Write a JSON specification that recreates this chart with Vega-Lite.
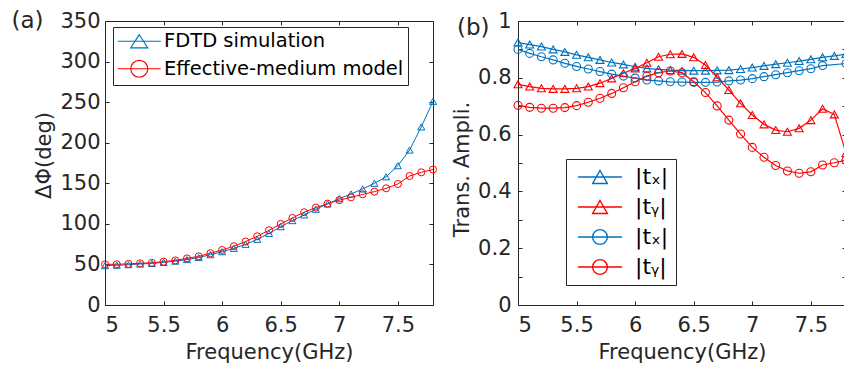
{
  "$schema": "https://vega.github.io/schema/vega-lite/v6.json",
  "autosize": {"type": "none"},
  "padding": {"left": 105, "top": 21, "right": 739, "bottom": 346},
  "background": "white",
  "spacing": 85,
  "bounds": "flush",
  "resolve": {"scale": {"color": "independent", "shape": "independent"}, "legend": {"color": "independent", "shape": "independent"}},
  "config": {
    "font": "DejaVu Sans",
    "view": {"stroke": null},
    "axis": {
      "grid": false,
      "domainColor": "#262626",
      "tickColor": "#262626",
      "labelColor": "#262626",
      "titleColor": "#262626",
      "labelFont": "DejaVu Sans",
      "titleFont": "DejaVu Sans",
      "labelFontSize": 21,
      "titleFontSize": 21,
      "titleFontWeight": "normal",
      "tickSize": -4,
      "domainWidth": 1,
      "tickWidth": 1
    },
    "legend": {
      "labelFont": "DejaVu Sans",
      "labelColor": "#000000",
      "labelLimit": 0,
      "strokeColor": "#262626",
      "fillColor": "white",
      "title": null
    }
  },
  "datasets": {
    "a": [
      {"f": 5.0, "v": 48.5, "s": "FDTD simulation"},
      {"f": 5.1, "v": 49, "s": "FDTD simulation"},
      {"f": 5.2, "v": 49.7, "s": "FDTD simulation"},
      {"f": 5.3, "v": 50.5, "s": "FDTD simulation"},
      {"f": 5.4, "v": 51.3, "s": "FDTD simulation"},
      {"f": 5.5, "v": 52.5, "s": "FDTD simulation"},
      {"f": 5.6, "v": 54, "s": "FDTD simulation"},
      {"f": 5.7, "v": 56, "s": "FDTD simulation"},
      {"f": 5.8, "v": 58.5, "s": "FDTD simulation"},
      {"f": 5.9, "v": 62, "s": "FDTD simulation"},
      {"f": 6.0, "v": 65.7, "s": "FDTD simulation"},
      {"f": 6.1, "v": 69.8, "s": "FDTD simulation"},
      {"f": 6.2, "v": 74.8, "s": "FDTD simulation"},
      {"f": 6.3, "v": 80.9, "s": "FDTD simulation"},
      {"f": 6.4, "v": 88.3, "s": "FDTD simulation"},
      {"f": 6.5, "v": 96.5, "s": "FDTD simulation"},
      {"f": 6.6, "v": 104, "s": "FDTD simulation"},
      {"f": 6.7, "v": 111, "s": "FDTD simulation"},
      {"f": 6.8, "v": 118, "s": "FDTD simulation"},
      {"f": 6.9, "v": 124.5, "s": "FDTD simulation"},
      {"f": 7.0, "v": 131, "s": "FDTD simulation"},
      {"f": 7.1, "v": 136.8, "s": "FDTD simulation"},
      {"f": 7.2, "v": 143, "s": "FDTD simulation"},
      {"f": 7.3, "v": 150, "s": "FDTD simulation"},
      {"f": 7.4, "v": 158, "s": "FDTD simulation"},
      {"f": 7.5, "v": 171.7, "s": "FDTD simulation"},
      {"f": 7.6, "v": 191, "s": "FDTD simulation"},
      {"f": 7.7, "v": 219.5, "s": "FDTD simulation"},
      {"f": 7.8, "v": 251, "s": "FDTD simulation"},
      {"f": 5.0, "v": 50.1, "s": "Effective-medium model"},
      {"f": 5.1, "v": 50.2, "s": "Effective-medium model"},
      {"f": 5.2, "v": 50.7, "s": "Effective-medium model"},
      {"f": 5.3, "v": 51.4, "s": "Effective-medium model"},
      {"f": 5.4, "v": 52, "s": "Effective-medium model"},
      {"f": 5.5, "v": 53.4, "s": "Effective-medium model"},
      {"f": 5.6, "v": 55, "s": "Effective-medium model"},
      {"f": 5.7, "v": 57.4, "s": "Effective-medium model"},
      {"f": 5.8, "v": 60, "s": "Effective-medium model"},
      {"f": 5.9, "v": 63.8, "s": "Effective-medium model"},
      {"f": 6.0, "v": 67.8, "s": "Effective-medium model"},
      {"f": 6.1, "v": 72.4, "s": "Effective-medium model"},
      {"f": 6.2, "v": 78.2, "s": "Effective-medium model"},
      {"f": 6.3, "v": 84.7, "s": "Effective-medium model"},
      {"f": 6.4, "v": 92.1, "s": "Effective-medium model"},
      {"f": 6.5, "v": 99.9, "s": "Effective-medium model"},
      {"f": 6.6, "v": 107.3, "s": "Effective-medium model"},
      {"f": 6.7, "v": 114.3, "s": "Effective-medium model"},
      {"f": 6.8, "v": 120, "s": "Effective-medium model"},
      {"f": 6.9, "v": 124.9, "s": "Effective-medium model"},
      {"f": 7.0, "v": 129.2, "s": "Effective-medium model"},
      {"f": 7.1, "v": 132.7, "s": "Effective-medium model"},
      {"f": 7.2, "v": 136.4, "s": "Effective-medium model"},
      {"f": 7.3, "v": 139.7, "s": "Effective-medium model"},
      {"f": 7.4, "v": 143.8, "s": "Effective-medium model"},
      {"f": 7.5, "v": 149.1, "s": "Effective-medium model"},
      {"f": 7.6, "v": 159, "s": "Effective-medium model"},
      {"f": 7.7, "v": 163.5, "s": "Effective-medium model"},
      {"f": 7.8, "v": 167, "s": "Effective-medium model"}
    ],
    "b": [
      {"f": 5.0, "v": 0.924, "s": "tx_f"},
      {"f": 5.1, "v": 0.917, "s": "tx_f"},
      {"f": 5.2, "v": 0.910, "s": "tx_f"},
      {"f": 5.3, "v": 0.900, "s": "tx_f"},
      {"f": 5.4, "v": 0.891, "s": "tx_f"},
      {"f": 5.5, "v": 0.881, "s": "tx_f"},
      {"f": 5.6, "v": 0.872, "s": "tx_f"},
      {"f": 5.7, "v": 0.863, "s": "tx_f"},
      {"f": 5.8, "v": 0.854, "s": "tx_f"},
      {"f": 5.9, "v": 0.847, "s": "tx_f"},
      {"f": 6.0, "v": 0.839, "s": "tx_f"},
      {"f": 6.1, "v": 0.833, "s": "tx_f"},
      {"f": 6.2, "v": 0.830, "s": "tx_f"},
      {"f": 6.3, "v": 0.827, "s": "tx_f"},
      {"f": 6.4, "v": 0.825, "s": "tx_f"},
      {"f": 6.5, "v": 0.825, "s": "tx_f"},
      {"f": 6.6, "v": 0.825, "s": "tx_f"},
      {"f": 6.7, "v": 0.826, "s": "tx_f"},
      {"f": 6.8, "v": 0.827, "s": "tx_f"},
      {"f": 6.9, "v": 0.831, "s": "tx_f"},
      {"f": 7.0, "v": 0.836, "s": "tx_f"},
      {"f": 7.1, "v": 0.842, "s": "tx_f"},
      {"f": 7.2, "v": 0.848, "s": "tx_f"},
      {"f": 7.3, "v": 0.853, "s": "tx_f"},
      {"f": 7.4, "v": 0.859, "s": "tx_f"},
      {"f": 7.5, "v": 0.865, "s": "tx_f"},
      {"f": 7.6, "v": 0.872, "s": "tx_f"},
      {"f": 7.7, "v": 0.877, "s": "tx_f"},
      {"f": 7.8, "v": 0.884, "s": "tx_f"},
      {"f": 5.0, "v": 0.777, "s": "ty_f"},
      {"f": 5.1, "v": 0.769, "s": "ty_f"},
      {"f": 5.2, "v": 0.763, "s": "ty_f"},
      {"f": 5.3, "v": 0.761, "s": "ty_f"},
      {"f": 5.4, "v": 0.761, "s": "ty_f"},
      {"f": 5.5, "v": 0.763, "s": "ty_f"},
      {"f": 5.6, "v": 0.769, "s": "ty_f"},
      {"f": 5.7, "v": 0.781, "s": "ty_f"},
      {"f": 5.8, "v": 0.798, "s": "ty_f"},
      {"f": 5.9, "v": 0.816, "s": "ty_f"},
      {"f": 6.0, "v": 0.833, "s": "ty_f"},
      {"f": 6.1, "v": 0.853, "s": "ty_f"},
      {"f": 6.2, "v": 0.874, "s": "ty_f"},
      {"f": 6.3, "v": 0.883, "s": "ty_f"},
      {"f": 6.4, "v": 0.884, "s": "ty_f"},
      {"f": 6.5, "v": 0.872, "s": "ty_f"},
      {"f": 6.6, "v": 0.845, "s": "ty_f"},
      {"f": 6.7, "v": 0.802, "s": "ty_f"},
      {"f": 6.8, "v": 0.757, "s": "ty_f"},
      {"f": 6.9, "v": 0.710, "s": "ty_f"},
      {"f": 7.0, "v": 0.669, "s": "ty_f"},
      {"f": 7.1, "v": 0.636, "s": "ty_f"},
      {"f": 7.2, "v": 0.616, "s": "ty_f"},
      {"f": 7.3, "v": 0.610, "s": "ty_f"},
      {"f": 7.4, "v": 0.622, "s": "ty_f"},
      {"f": 7.5, "v": 0.651, "s": "ty_f"},
      {"f": 7.6, "v": 0.691, "s": "ty_f"},
      {"f": 7.7, "v": 0.671, "s": "ty_f"},
      {"f": 7.8, "v": 0.535, "s": "ty_f"},
      {"f": 5.0, "v": 0.900, "s": "tx_e"},
      {"f": 5.1, "v": 0.886, "s": "tx_e"},
      {"f": 5.2, "v": 0.874, "s": "tx_e"},
      {"f": 5.3, "v": 0.863, "s": "tx_e"},
      {"f": 5.4, "v": 0.851, "s": "tx_e"},
      {"f": 5.5, "v": 0.840, "s": "tx_e"},
      {"f": 5.6, "v": 0.831, "s": "tx_e"},
      {"f": 5.7, "v": 0.822, "s": "tx_e"},
      {"f": 5.8, "v": 0.813, "s": "tx_e"},
      {"f": 5.9, "v": 0.806, "s": "tx_e"},
      {"f": 6.0, "v": 0.799, "s": "tx_e"},
      {"f": 6.1, "v": 0.792, "s": "tx_e"},
      {"f": 6.2, "v": 0.789, "s": "tx_e"},
      {"f": 6.3, "v": 0.786, "s": "tx_e"},
      {"f": 6.4, "v": 0.785, "s": "tx_e"},
      {"f": 6.5, "v": 0.784, "s": "tx_e"},
      {"f": 6.6, "v": 0.784, "s": "tx_e"},
      {"f": 6.7, "v": 0.785, "s": "tx_e"},
      {"f": 6.8, "v": 0.789, "s": "tx_e"},
      {"f": 6.9, "v": 0.792, "s": "tx_e"},
      {"f": 7.0, "v": 0.797, "s": "tx_e"},
      {"f": 7.1, "v": 0.804, "s": "tx_e"},
      {"f": 7.2, "v": 0.811, "s": "tx_e"},
      {"f": 7.3, "v": 0.818, "s": "tx_e"},
      {"f": 7.4, "v": 0.825, "s": "tx_e"},
      {"f": 7.5, "v": 0.832, "s": "tx_e"},
      {"f": 7.6, "v": 0.843, "s": "tx_e"},
      {"f": 7.8, "v": 0.850, "s": "tx_e"},
      {"f": 5.0, "v": 0.703, "s": "ty_e"},
      {"f": 5.1, "v": 0.696, "s": "ty_e"},
      {"f": 5.2, "v": 0.693, "s": "ty_e"},
      {"f": 5.3, "v": 0.693, "s": "ty_e"},
      {"f": 5.4, "v": 0.695, "s": "ty_e"},
      {"f": 5.5, "v": 0.702, "s": "ty_e"},
      {"f": 5.6, "v": 0.714, "s": "ty_e"},
      {"f": 5.7, "v": 0.728, "s": "ty_e"},
      {"f": 5.8, "v": 0.745, "s": "ty_e"},
      {"f": 5.9, "v": 0.765, "s": "ty_e"},
      {"f": 6.0, "v": 0.786, "s": "ty_e"},
      {"f": 6.1, "v": 0.806, "s": "ty_e"},
      {"f": 6.2, "v": 0.818, "s": "ty_e"},
      {"f": 6.3, "v": 0.824, "s": "ty_e"},
      {"f": 6.4, "v": 0.818, "s": "ty_e"},
      {"f": 6.5, "v": 0.786, "s": "ty_e"},
      {"f": 6.6, "v": 0.748, "s": "ty_e"},
      {"f": 6.7, "v": 0.701, "s": "ty_e"},
      {"f": 6.8, "v": 0.651, "s": "ty_e"},
      {"f": 6.9, "v": 0.602, "s": "ty_e"},
      {"f": 7.0, "v": 0.555, "s": "ty_e"},
      {"f": 7.1, "v": 0.520, "s": "ty_e"},
      {"f": 7.2, "v": 0.491, "s": "ty_e"},
      {"f": 7.3, "v": 0.472, "s": "ty_e"},
      {"f": 7.4, "v": 0.464, "s": "ty_e"},
      {"f": 7.5, "v": 0.469, "s": "ty_e"},
      {"f": 7.6, "v": 0.493, "s": "ty_e"},
      {"f": 7.7, "v": 0.501, "s": "ty_e"},
      {"f": 7.8, "v": 0.510, "s": "ty_e"}
    ]
  },
  "hconcat": [
    {
      "width": 328,
      "height": 284,
      "data": {"name": "a"},
      "encoding": {
        "x": {"field": "f", "type": "quantitative", "scale": {"domain": [5, 7.8], "nice": false, "zero": false}},
        "y": {"field": "v", "type": "quantitative", "scale": {"domain": [0, 350], "nice": false}},
        "color": {"field": "s", "type": "nominal", "scale": {"domain": ["FDTD simulation", "Effective-medium model"], "range": ["#0072BD", "#FF0000"]}}
      },
      "layer": [
        {
          "mark": {"type": "line", "strokeWidth": 1},
          "encoding": {
            "x": {"field": "f", "type": "quantitative",
              "axis": {"orient": "bottom", "values": [5, 5.5, 6, 6.5, 7, 7.5], "format": "~g", "title": "Frequency(GHz)", "labelPadding": 13, "titlePadding": 6}},
            "y": {"field": "v", "type": "quantitative",
              "axis": {"orient": "left", "values": [0, 50, 100, 150, 200, 250, 300, 350], "title": "ΔΦ(deg)", "labelPadding": 9, "titlePadding": 5, "titleY": 134}}
          }
        },
        {
          "transform": [{"filter": "datum.s == 'FDTD simulation'"}],
          "mark": {"type": "point", "shape": "triangle-up", "filled": false, "size": 50, "strokeWidth": 1, "opacity": 1},
          "encoding": {
            "x": {"field": "f", "type": "quantitative",
              "axis": {"orient": "top", "values": [5, 5.5, 6, 6.5, 7, 7.5], "labels": false, "title": "(a)", "titleX": -94, "titleY": 6, "titleAngle": 0, "titleAlign": "left", "titleBaseline": "alphabetic", "titleFontSize": 23}},
            "y": {"field": "v", "type": "quantitative",
              "axis": {"orient": "right", "values": [0, 50, 100, 150, 200, 250, 300, 350], "labels": false, "title": null}}
          }
        },
        {
          "transform": [{"filter": "datum.s == 'Effective-medium model'"}],
          "mark": {"type": "point", "shape": "circle", "filled": false, "size": 50, "strokeWidth": 1, "opacity": 1},
          "encoding": {
            "x": {"field": "f", "type": "quantitative", "axis": null},
            "y": {"field": "v", "type": "quantitative", "axis": null}
          }
        },
        {
          "transform": [{"filter": "false"}],
          "mark": {"type": "point", "filled": false, "opacity": 1},
          "encoding": {
            "x": {"field": "f", "type": "quantitative", "axis": null},
            "y": {"field": "v", "type": "quantitative", "axis": null},
            "color": {"field": "s", "type": "nominal",
              "legend": {"orient": "none", "legendX": 8, "legendY": 6, "padding": 4.5, "rowPadding": 5.5, "labelFontSize": 19.5, "symbolSize": 225, "symbolStrokeWidth": 1.2, "symbolOffset": 12, "labelOffset": 15}},
            "shape": {"field": "s", "type": "nominal",
              "scale": {"domain": ["FDTD simulation", "Effective-medium model"], "range": ["M-2.87,0H2.87M0,-0.87L1.13,0.87H-1.13Z", "M-2.87,0H2.87M1.13,0A1.13,1.13 0 1,1 -1.13,0A1.13,1.13 0 1,1 1.13,0Z"]},
              "legend": {"orient": "none", "legendX": 8, "legendY": 6, "padding": 4.5, "rowPadding": 5.5, "labelFontSize": 19.5, "symbolSize": 225, "symbolStrokeWidth": 1.2, "symbolOffset": 12, "labelOffset": 15}}
          }
        }
      ],
      "resolve": {"axis": {"x": "independent", "y": "independent"}}
    },
    {
      "width": 328,
      "height": 284,
      "data": {"name": "b"},
      "encoding": {
        "x": {"field": "f", "type": "quantitative", "scale": {"domain": [5, 7.8], "nice": false, "zero": false}},
        "y": {"field": "v", "type": "quantitative", "scale": {"domain": [0, 1], "nice": false}},
        "color": {"field": "s", "type": "nominal", "scale": {"domain": ["tx_f", "ty_f", "tx_e", "ty_e"], "range": ["#0072BD", "#FF0000", "#0072BD", "#FF0000"]}}
      },
      "layer": [
        {
          "mark": {"type": "line", "strokeWidth": 1.2},
          "encoding": {
            "x": {"field": "f", "type": "quantitative",
              "axis": {"orient": "bottom", "values": [5, 5.5, 6, 6.5, 7, 7.5], "format": "~g", "title": "Frequency(GHz)", "labelPadding": 13, "titlePadding": 6}},
            "y": {"field": "v", "type": "quantitative",
              "axis": {"orient": "left", "values": [0, 0.1, 0.2, 0.3, 0.4, 0.5, 0.6, 0.7, 0.8, 0.9, 1], "format": "~g", "labelExpr": "round(datum.value*10) % 2 == 0 ? datum.label : ''", "title": "Trans. Ampli.", "labelPadding": 11, "titlePadding": 5, "titleY": 148}}
          }
        },
        {
          "transform": [{"filter": "datum.s == 'tx_f' || datum.s == 'ty_f'"}],
          "mark": {"type": "point", "shape": "triangle-up", "filled": false, "size": 64, "strokeWidth": 1.1, "opacity": 1},
          "encoding": {
            "x": {"field": "f", "type": "quantitative",
              "axis": {"orient": "top", "values": [5, 5.5, 6, 6.5, 7, 7.5], "labels": false, "title": "(b)", "titleX": -61.5, "titleY": 13, "titleAngle": 0, "titleAlign": "left", "titleBaseline": "alphabetic", "titleFontSize": 23}},
            "y": {"field": "v", "type": "quantitative",
              "axis": {"orient": "right", "values": [0, 0.1, 0.2, 0.3, 0.4, 0.5, 0.6, 0.7, 0.8, 0.9, 1], "labels": false, "title": null}}
          }
        },
        {
          "transform": [{"filter": "datum.s == 'tx_e' || datum.s == 'ty_e'"}],
          "mark": {"type": "point", "shape": "circle", "filled": false, "size": 64, "strokeWidth": 1.1, "opacity": 1},
          "encoding": {
            "x": {"field": "f", "type": "quantitative", "axis": null},
            "y": {"field": "v", "type": "quantitative", "axis": null}
          }
        },
        {
          "transform": [{"filter": "false"}],
          "mark": {"type": "point", "filled": false, "opacity": 1},
          "encoding": {
            "x": {"field": "f", "type": "quantitative", "axis": null},
            "y": {"field": "v", "type": "quantitative", "axis": null},
            "color": {"field": "s", "type": "nominal",
              "legend": {"orient": "none", "legendX": 48, "legendY": 138, "padding": 7, "rowPadding": 8, "labelFontSize": 22, "symbolSize": 225, "symbolStrokeWidth": 1.4, "symbolOffset": 16, "labelOffset": 24,
                "labelExpr": "(datum.value == 'tx_f' || datum.value == 'tx_e') ? '|tₓ|' : '|tᵧ|'"}},
            "shape": {"field": "s", "type": "nominal",
              "scale": {"domain": ["tx_f", "ty_f", "tx_e", "ty_e"], "range": ["M-2.93,0H2.93M0,-0.87L0.98,0.87H-0.98Z", "M-2.93,0H2.93M0,-0.87L0.98,0.87H-0.98Z", "M-2.93,0H2.93M0.98,0A0.98,0.98 0 1,1 -0.98,0A0.98,0.98 0 1,1 0.98,0Z", "M-2.93,0H2.93M0.98,0A0.98,0.98 0 1,1 -0.98,0A0.98,0.98 0 1,1 0.98,0Z"]},
              "legend": {"orient": "none", "legendX": 48, "legendY": 138, "padding": 7, "rowPadding": 8, "labelFontSize": 22, "symbolSize": 225, "symbolStrokeWidth": 1.4, "symbolOffset": 16, "labelOffset": 24,
                "labelExpr": "(datum.value == 'tx_f' || datum.value == 'tx_e') ? '|tₓ|' : '|tᵧ|'"}}
          }
        }
      ],
      "resolve": {"axis": {"x": "independent", "y": "independent"}}
    }
  ]
}
